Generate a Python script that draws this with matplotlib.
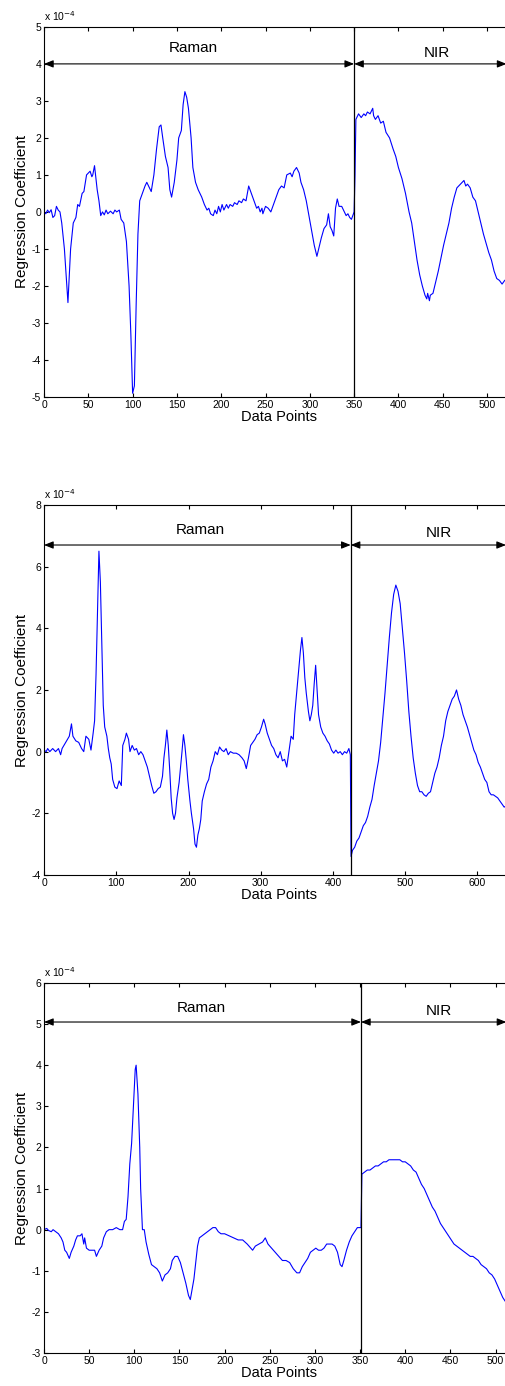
import matplotlib
matplotlib.use("Agg")
import matplotlib.pyplot as plt

plt.rcParams["font.family"] = ["Liberation Sans", "DejaVu Sans"]
plt.rcParams["axes.unicode_minus"] = False

# ---- panel 1 (values in units of 1e-4) ----
x1 = [0, 2, 4, 6, 8, 10, 12, 14, 16, 18, 20, 23, 27, 30, 33, 36, 38, 40, 43, 45, 48,
      50, 52, 54, 55, 57, 60, 62, 64, 66, 68, 70, 72, 75, 78, 80, 82, 85, 87, 90, 93,
      96, 98, 100, 102, 104, 106, 108, 111, 114, 116, 119, 121, 124, 127, 130, 132,
      134, 137, 140, 142, 144, 147, 150, 152, 155, 157, 159, 161, 163, 166, 168, 171,
      174, 178, 181, 184, 186, 188, 191, 193, 195, 197, 199, 201, 203, 206, 208, 210,
      213, 215, 218, 220, 223, 225, 228, 231, 234, 237, 240, 242, 244, 246, 247, 250,
      253, 256, 259, 262, 265, 268, 271, 274, 278, 280, 282, 285, 288, 290, 293, 296,
      299, 302, 305, 308, 310, 313, 316, 319, 321, 323, 325, 327, 329, 331, 333, 336,
      339, 341, 343, 345, 347, 350, 351, 352, 355, 358, 361, 363, 365, 368, 371, 372,
      374, 377, 380, 383, 386, 390, 394, 397, 400, 404, 408, 412, 415, 418, 421, 424,
      427, 430, 432, 433, 435, 436, 439, 442, 445, 448, 451, 454, 457, 460, 463, 466,
      470, 472, 474, 476, 478, 481, 484, 487, 490, 493, 496, 499, 502, 505, 508, 511,
      514, 517, 520, 523]
y1 = [0.0, -0.05, 0.05, -0.02, 0.06, -0.15, -0.1, 0.15, 0.05, 0.0, -0.3, -1.0, -2.45,
      -1.0, -0.3, -0.15, 0.2, 0.15, 0.5, 0.55, 1.0, 1.05, 1.1, 0.95, 1.0, 1.25, 0.6,
      0.3, -0.1, 0.0, -0.08, 0.05, -0.05, 0.02, -0.05, 0.05, 0.0, 0.05, -0.2, -0.3,
      -0.8, -2.0, -3.3, -4.9, -4.7, -2.5, -0.6, 0.3, 0.5, 0.7, 0.8, 0.65, 0.55, 1.0,
      1.7, 2.3, 2.35, 2.0, 1.5, 1.2, 0.6, 0.4, 0.8, 1.4, 2.0, 2.2, 2.9, 3.25, 3.1,
      2.8, 2.0, 1.2, 0.8, 0.6, 0.4, 0.2, 0.05, 0.1, -0.05, -0.1, 0.05, -0.05, 0.15,
      0.0, 0.2, 0.05, 0.2, 0.1, 0.2, 0.15, 0.25, 0.2, 0.3, 0.25, 0.35, 0.3, 0.7, 0.5,
      0.3, 0.1, 0.15, 0.0, 0.1, -0.05, 0.15, 0.1, 0.0, 0.2, 0.4, 0.6, 0.7, 0.65, 1.0,
      1.05, 0.95, 1.1, 1.2, 1.05, 0.8, 0.6, 0.3, -0.1, -0.5, -0.9, -1.2, -1.0, -0.7,
      -0.45, -0.35, -0.05, -0.4, -0.5, -0.65, 0.1, 0.35, 0.15, 0.15, 0.0, -0.1, -0.05,
      -0.15, -0.2, 0.0, 1.0, 2.5, 2.65, 2.55, 2.65, 2.6, 2.7, 2.65, 2.8, 2.6, 2.5, 2.6,
      2.4, 2.45, 2.15, 2.0, 1.7, 1.5, 1.2, 0.9, 0.5, 0.0, -0.3, -0.8, -1.3, -1.7, -2.0,
      -2.25, -2.35, -2.2, -2.4, -2.25, -2.2, -1.9, -1.6, -1.25, -0.9, -0.6, -0.3, 0.1,
      0.4, 0.65, 0.75, 0.8, 0.85, 0.7, 0.75, 0.65, 0.4, 0.3, 0.0, -0.3, -0.6, -0.85,
      -1.1, -1.3, -1.6, -1.8, -1.85, -1.95, -1.85, -1.8]

# ---- panel 2 ----
x2 = [0, 3, 5, 8, 12, 16, 20, 23, 25, 30, 35, 38, 40, 44, 48, 52, 55, 58, 62, 65, 68,
      70, 72, 74, 76, 78, 80, 82, 84, 87, 89, 91, 93, 95, 98, 101, 104, 107, 109, 112,
      114, 117, 119, 122, 125, 128, 131, 134, 137, 140, 143, 146, 149, 152, 155, 158,
      161, 164, 166, 168, 170, 172, 174, 176, 178, 180, 182, 184, 187, 189, 191, 193,
      195, 197, 199, 202, 204, 207, 209, 211, 213, 215, 217, 219, 222, 225, 228, 231,
      234, 237, 240, 243, 246, 249, 252, 255, 258, 262, 266, 270, 274, 277, 280, 283,
      286, 289, 292, 295, 298, 301, 304, 306, 309, 312, 315, 318, 321, 324, 327, 330,
      333, 336, 339, 342, 345, 347, 350, 353, 355, 357, 359, 361, 363, 366, 368, 370,
      372, 374, 376, 378, 380, 383, 386, 389, 392, 395, 398, 401, 404, 407, 410, 413,
      416, 419, 422, 424, 425, 427, 430, 433, 436, 439, 442, 445, 448, 451, 454, 457,
      460, 463, 466, 469, 472, 475, 478, 481, 484, 487, 490, 493, 496, 499, 502, 505,
      508, 511, 514, 517, 520, 523, 526, 529, 532, 535, 538, 541, 544, 547, 550, 553,
      556, 559, 562, 565, 568, 571, 574, 577, 580, 583, 586, 589, 592, 595, 598, 601,
      604, 607, 610, 613, 616, 619, 622, 625, 628, 631, 634, 637, 640]
y2 = [0.05, 0.0, 0.1, 0.0, 0.1, 0.0, 0.1, -0.1, 0.1, 0.3, 0.5, 0.9, 0.5, 0.35, 0.3,
      0.1, 0.0, 0.5, 0.4, 0.05, 0.6, 1.0, 2.5, 4.5, 6.5, 5.5, 3.5, 1.5, 0.8, 0.5, 0.1,
      -0.2, -0.4, -0.9, -1.15, -1.2, -0.95, -1.1, 0.2, 0.4, 0.6, 0.4, 0.0, 0.2, 0.05,
      0.1, -0.1, 0.0, -0.1, -0.3, -0.5, -0.8, -1.1, -1.35, -1.3, -1.2, -1.15, -0.8,
      -0.2, 0.2, 0.7, 0.2, -0.6, -1.5, -2.0, -2.2, -2.0, -1.5, -1.0, -0.5, 0.0, 0.55,
      0.2, -0.3, -0.9, -1.6, -2.0, -2.5, -3.0, -3.1, -2.7, -2.5, -2.2, -1.6, -1.3,
      -1.05, -0.9, -0.5, -0.3, 0.0, -0.1, 0.15, 0.05, 0.0, 0.1, -0.1, 0.0, -0.05,
      -0.05, -0.1, -0.2, -0.3, -0.55, -0.2, 0.2, 0.3, 0.4, 0.55, 0.6, 0.8, 1.05, 0.9,
      0.6, 0.4, 0.2, 0.1, -0.1, -0.2, 0.0, -0.3, -0.25, -0.5, 0.0, 0.5, 0.4, 1.2, 2.0,
      2.8, 3.3, 3.7, 3.2, 2.4, 1.9, 1.3, 1.0, 1.2, 1.5, 2.2, 2.8, 2.0, 1.2, 0.8, 0.6,
      0.5, 0.35, 0.25, 0.05, -0.05, 0.05, -0.05, 0.0, -0.1, 0.0, -0.05, 0.1, -0.1,
      -3.4, -3.2, -3.1, -2.9, -2.8, -2.6, -2.4, -2.3, -2.1, -1.8, -1.55, -1.1, -0.7,
      -0.3, 0.3, 1.1, 1.9, 2.8, 3.7, 4.5, 5.1, 5.4, 5.2, 4.8, 4.0, 3.2, 2.3, 1.3, 0.5,
      -0.2, -0.7, -1.1, -1.3, -1.3, -1.4, -1.45, -1.35, -1.3, -1.0, -0.7, -0.5, -0.2,
      0.2, 0.5, 1.0, 1.3, 1.5, 1.7, 1.8, 2.0, 1.7, 1.5, 1.2, 1.0, 0.8, 0.55, 0.3, 0.05,
      -0.1, -0.35, -0.5, -0.7, -0.9, -1.0, -1.3, -1.4, -1.4, -1.45, -1.5, -1.6, -1.7,
      -1.8, -1.75]

# ---- panel 3 ----
x3 = [0, 3, 5, 8, 10, 13, 16, 19, 21, 23, 25, 28, 30, 33, 35, 37, 40, 42, 44, 45, 47,
      50, 53, 56, 58, 61, 64, 66, 69, 72, 76, 80, 84, 87, 89, 91, 93, 95, 97, 99, 101,
      102, 104, 106, 107, 109, 111, 113, 116, 119, 122, 125, 128, 131, 134, 137, 140,
      142, 145, 148, 151, 154, 157, 160, 162, 164, 166, 168, 170, 172, 175, 178, 181,
      184, 187, 190, 193, 196, 200, 205, 210, 215, 220, 225, 229, 231, 234, 238, 242,
      245, 248, 252, 256, 260, 264, 268, 272, 276, 280, 283, 286, 289, 292, 295, 298,
      301, 304, 307, 310, 313, 316, 319, 322, 325, 328, 330, 332, 335, 338, 341, 344,
      347, 350, 351, 352, 355, 358, 361, 364, 367, 370, 373, 376, 379, 382, 385, 388,
      391, 394, 397, 400, 403, 406, 409, 412, 415, 418, 421, 424, 427, 430, 433, 436,
      439, 442, 445, 448, 451, 454, 457, 460, 463, 466, 469, 472, 475, 478, 481, 484,
      487, 490, 493, 496, 499, 502, 505, 508, 511, 514]
y3 = [0.0, 0.03, -0.02, -0.05, 0.0, -0.05, -0.1, -0.2, -0.3, -0.5, -0.55, -0.7,
      -0.55, -0.4, -0.25, -0.15, -0.15, -0.1, -0.35, -0.2, -0.45, -0.5, -0.5, -0.5,
      -0.65, -0.5, -0.4, -0.2, -0.05, 0.0, 0.0, 0.05, 0.0, 0.0, 0.2, 0.25, 0.8, 1.6,
      2.1, 3.0, 3.9, 4.0, 3.3, 2.0, 1.0, 0.0, 0.0, -0.3, -0.6, -0.85, -0.9, -0.95,
      -1.05, -1.25, -1.1, -1.05, -0.95, -0.75, -0.65, -0.65, -0.8, -1.05, -1.3, -1.6,
      -1.7, -1.45, -1.2, -0.8, -0.4, -0.2, -0.15, -0.1, -0.05, 0.0, 0.05, 0.05, -0.05,
      -0.1, -0.1, -0.15, -0.2, -0.25, -0.25, -0.35, -0.45, -0.5, -0.4, -0.35, -0.3,
      -0.2, -0.35, -0.45, -0.55, -0.65, -0.75, -0.75, -0.8, -0.95, -1.05, -1.05, -0.9,
      -0.8, -0.7, -0.55, -0.5, -0.45, -0.5, -0.5, -0.45, -0.35, -0.35, -0.35, -0.4,
      -0.55, -0.85, -0.9, -0.75, -0.5, -0.3, -0.15, -0.05, 0.05, 0.05, 0.05, 1.35, 1.4,
      1.45, 1.45, 1.5, 1.55, 1.55, 1.6, 1.65, 1.65, 1.7, 1.7, 1.7, 1.7, 1.7, 1.65,
      1.65, 1.6, 1.55, 1.45, 1.4, 1.25, 1.1, 1.0, 0.85, 0.7, 0.55, 0.45, 0.3, 0.15,
      0.05, -0.05, -0.15, -0.25, -0.35, -0.4, -0.45, -0.5, -0.55, -0.6, -0.65, -0.65,
      -0.7, -0.75, -0.85, -0.9, -0.95, -1.05, -1.1, -1.2, -1.35, -1.5, -1.65, -1.75,
      -1.8]

panels = [
    # data, bottom, xlim, ylim, xticks, yticks, split, arrow_y, arrow_end, raman pos, nir pos
    (x1, y1, 0.7136, (0, 530), (-5, 5), range(0, 501, 50), range(-5, 6), 350, 4.0, 522,
     (168, 4.43), (443, 4.3)),
    (x2, y2, 0.3687, (0, 650), (-4, 8), range(0, 601, 100), range(-4, 9, 2), 424.5, 6.7, 639.5,
     (217, 7.19), (546, 7.1)),
    (x3, y3, 0.0238, (0, 520), (-3, 6), range(0, 501, 50), range(-3, 7), 351, 5.05, 512,
     (174, 5.38), (437, 5.33)),
]

fig = plt.figure(figsize=(5.06, 13.86), dpi=100)

for (xs, ys, bottom, xlim, ylim, xt, yt, split, ay, aend, rpos, npos) in panels:
    ax = fig.add_axes([0.087, bottom, 0.928, 0.267])
    ax.plot(xs, ys, color="#0000ff", lw=0.8)
    ax.axvline(split, color="black", lw=0.9)
    ax.set_xlim(*xlim)
    ax.set_ylim(*ylim)
    ax.set_xticks(list(xt))
    ax.set_yticks(list(yt))
    ax.tick_params(direction="in", top=True, right=False, labelsize=7.5, length=3, pad=2)
    ax.set_xlabel("Data Points", fontsize=10.5, labelpad=0)
    ax.set_ylabel("Regression Coefficient", fontsize=11, labelpad=2)
    ax.text(0, 1.01, r"x 10$^{-4}$", transform=ax.transAxes, fontsize=7.5, va="bottom")
    arw = dict(arrowstyle="<|-|>,head_length=0.55,head_width=0.22", color="black", lw=0.8,
               shrinkA=0, shrinkB=0)
    ax.annotate("", xy=(0, ay), xytext=(split, ay), arrowprops=arw)
    ax.annotate("", xy=(split, ay), xytext=(aend, ay), arrowprops=arw, annotation_clip=False)
    ax.text(rpos[0], rpos[1], "Raman", ha="center", va="center", fontsize=11)
    ax.text(npos[0], npos[1], "NIR", ha="center", va="center", fontsize=11)

fig.savefig("out.png", dpi=100)
